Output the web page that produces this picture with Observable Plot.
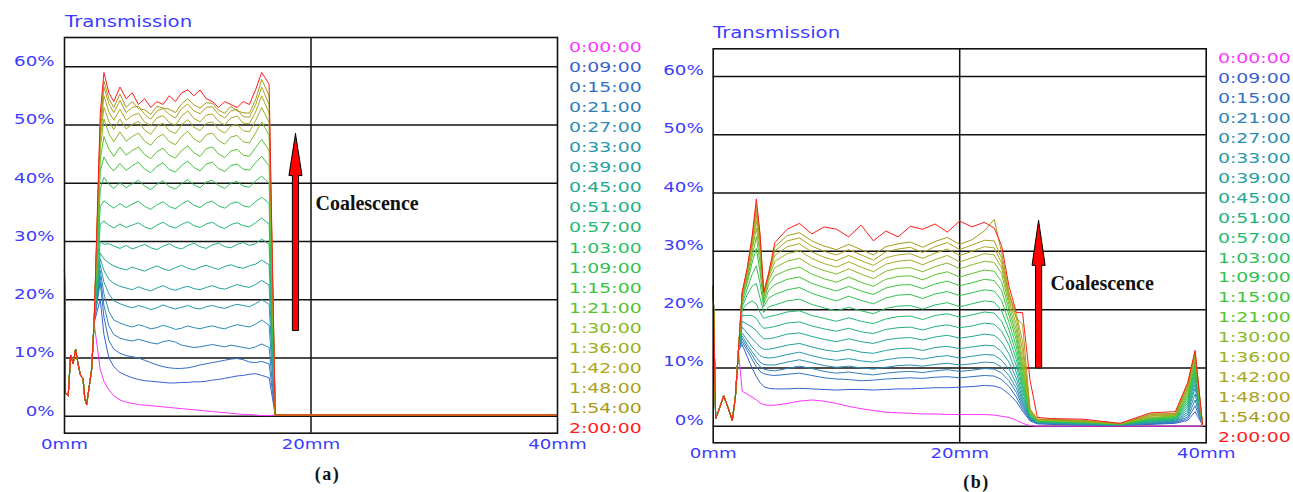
<!DOCTYPE html>
<html><head><meta charset="utf-8">
<script src="https://cdn.jsdelivr.net/npm/d3@7"></script>
<script src="https://cdn.jsdelivr.net/npm/@observablehq/plot@0.6"></script>
<style>
body{margin:0;background:#fff;}
#root{position:relative;width:1293px;height:492px;overflow:hidden;font-family:"DejaVu Sans",sans-serif;background:#fff;}
.abs{position:absolute;white-space:nowrap;}
.title{color:#3b3bff;font-size:16px;line-height:20px;transform:scaleX(1.23);transform-origin:0 50%;}
.leg{font-size:14.5px;line-height:20px;transform:scaleX(1.3);transform-origin:0 50%;}
.cap{font-family:"Liberation Serif",serif;font-weight:bold;font-size:18px;line-height:20px;letter-spacing:1.5px;width:60px;text-align:center;color:#111;}
svg{position:absolute;top:0;}
</style></head><body><div id="root"></div>
<script>
// ---------- shared ----------
const timeLabels = ["0:00:00","0:09:00","0:15:00","0:21:00","0:27:00","0:33:00","0:39:00","0:45:00","0:51:00","0:57:00",
  "1:03:00","1:09:00","1:15:00","1:21:00","1:30:00","1:36:00","1:42:00","1:48:00","1:54:00","2:00:00"];
const seriesColors = ["#ff33ff","#3a60d0","#3070c4","#2f80b8","#2b8db0","#2898aa","#24a0a0","#22a892","#22b082","#25b872",
  "#2abf60","#32c250","#3cc43e","#58c22e","#86b82a","#9cb024","#a8a820","#aaa21e","#a89a1a","#ff1a1a"];
const yTicks = [0,10,20,30,40,50,60];
const xTicks = [0,20,40];
const gridX = [20];

// ---------- panel (a) ----------
const leftAX = [0, 0.05, 0.3, 0.5, 0.7, 0.9, 1.1, 1.3, 1.5, 1.65, 1.8, 2.0, 2.2, 2.4];
const leftAY = [25, 4, 3.5, 10.5, 9, 11.5, 9, 7, 6.5, 3, 2, 5, 8, 16];
const plateauAX = [2.9,3.2,3.6,4.0,4.5,5.0,5.5,6.0,6.5,7.0,7.5,8.0,8.5,9.0,9.5,10.0,10.5,11.0,11.5,12.0,12.5,13.0,13.5,14.0,14.5,15.0,15.5,16.0,16.6];
const tailAX = [17.1, 40];
const tailAY = [0.2, 0.2];
const valuesA = [
 [8,6,4.5,3.5,2.8,2.4,2.2,2,1.9,1.8,1.7,1.6,1.5,1.4,1.3,1.2,1.1,1,0.9,0.8,0.7,0.6,0.5,0.4,0.3,0.3,0.2,0.1,0.1],
 [20,14,10,8.5,7.5,7,6.6,6.3,6.1,6,5.9,5.8,5.7,5.7,5.8,5.8,5.9,5.9,6,6.2,6.3,6.5,6.7,6.9,7,7.2,7.3,7,6.6],
 [23,17,13,11.5,10.8,10.4,10.2,10,9.6,9.2,8.8,8.5,8.3,8.2,8.2,8.3,8.5,8.8,9,9.2,9.4,9.6,9.8,9.9,9.7,9.3,9.2,9.4,9],
 [24,19,15.5,14,13.4,13.1,12.9,13.2,12.9,12.6,12.4,12.8,13,12.7,12.2,12,11.8,11.9,12.1,12.3,12.1,11.9,12.2,12,11.8,11.6,11.9,12.4,11.8],
 [25,21,18,16.5,16,15.6,15.3,15.7,15.4,15,15.2,15.6,15.3,14.9,15.1,15.5,15.2,15,15.3,15.5,15.2,15,15.4,15.7,15.5,15.3,15.8,16.5,15.6],
 [26,23,21,19.8,19.3,18.9,18.6,19,18.7,18.3,18.6,19.1,18.7,18.4,18.7,19,18.6,18.4,18.8,19,18.7,18.5,18.9,19.2,19,18.8,19.3,20,19.2],
 [27,25,23.5,22.8,22.3,22,21.7,22.2,21.8,21.5,22,22.4,21.9,21.6,22,22.3,21.9,21.7,22.1,22.4,22,21.8,22.2,22.6,22.3,22.1,22.6,23.3,22.5],
 [28,27,26.3,25.8,25.4,25.1,25.6,25.2,24.9,25.4,25.8,25.3,25,25.5,25.9,25.4,25.1,25.6,25.9,25.5,25.2,25.7,26,25.6,25.4,25.8,26.1,26.8,26],
 [30,29.5,29.6,29.2,28.8,29.3,28.7,29.1,29.5,28.9,28.6,29.2,29.6,29,28.7,29.3,29.7,29.1,28.8,29.4,29.7,29.1,28.9,29.5,29.8,29.3,29.6,30.4,29.5],
 [33,33.5,32.8,32.3,33,32.4,32.8,33.2,32.5,32.1,32.8,33.3,32.6,32.3,32.9,33.4,32.7,32.4,33,33.3,32.6,32.2,32.9,33.2,32.7,32.5,33.2,34,33],
 [36,37,36.3,35.7,36.5,35.8,36.4,36.9,36,35.5,36.3,36.8,36,35.6,36.4,37,36.2,35.8,36.6,36.9,36.1,35.7,36.5,36.8,36.1,35.9,36.8,37.6,36.5],
 [39,41,39.8,39.1,40.1,39.2,39.9,40.5,39.5,38.9,39.8,40.4,39.4,39,39.9,40.6,39.7,39.2,40.2,40.5,39.6,39.1,40,40.3,39.5,39.3,40.4,41.2,40],
 [42,44.5,43,42.1,43.4,42.2,43,43.6,42.4,41.8,42.9,43.5,42.3,41.9,43,43.8,42.7,42.1,43.3,43.6,42.5,42,43,43.3,42.4,42.2,43.5,44.6,43],
 [44,48,45.8,44.6,46.2,44.8,45.6,46.2,44.9,44.2,45.4,46,44.8,44.3,45.6,46.4,45.2,44.6,45.9,46.2,45,44.4,45.5,45.8,44.8,44.6,46.1,47.5,45.6],
 [46,51,48.5,47.1,48.8,47.2,48,48.6,47.2,46.5,47.8,48.4,47.1,46.6,48,48.9,47.6,47,48.3,48.6,47.3,46.7,47.9,48.2,47.1,46.9,48.6,50.5,48.2],
 [47.5,53,50.6,49.2,51,49.3,50.1,50.6,49.1,48.4,49.8,50.3,49,48.5,50,50.9,49.6,49,50.3,50.5,49.2,48.6,49.8,50.1,49,48.8,50.7,53,50.4],
 [48.5,55,52.2,50.8,52.7,50.8,51.6,52,50.5,49.8,51.2,51.6,50.4,49.9,51.5,52.4,51.1,50.5,51.7,51.9,50.6,50,51.2,51.5,50.3,50.2,52.2,55,52],
 [49.5,56.5,53.6,52.1,54.2,52.1,53,53.2,51.8,51,52.4,52.8,51.8,51.2,52.8,53.6,52.4,51.9,53,53.1,51.8,51.2,52.4,52.7,51.4,51.3,53.4,56.5,53.5],
 [50,57.5,54.5,53,55.3,53,54,52.8,52.6,51.8,53.2,52.9,52.7,52.1,53.6,54.5,53.4,52.9,53.8,53.7,52.5,52,53.2,52.4,52.1,52,54.3,57.8,55],
 [52,59,55.5,54,56.5,54.5,55.5,53.5,54.5,53,54,53.5,55,54,55.5,56,55,56,54.5,54,53,54,53.5,53,54,53.5,56,59,57]
];
const arrowA = {x: 18.74, y1: 14.7, base: 41.3, tip: 48.5};
const noteA = {x: 20.36, y: 36.5, text: "Coalescence"};

// ---------- panel (b) ----------
const leftBX = [0, 0.05, 0.2, 0.5, 0.85, 1.2, 1.55, 1.8, 2.05];
const leftBY = [24, 18, 1.3, 3, 5.2, 3.2, 1, 5, 13];
const plateauBX = [2.35,2.75,3.15,3.5,3.8,4.1,4.5,5,6,7,8,9,10,11,12,13,14,15,16,17,18,19,20,21,22,22.8,23.4,24.0,24.6,25.1,25.7,26.3,
  27.5,30,33,35.5,37.5,38.5,39.1,39.7];
const valuesB = [
 [6,5.5,5,4.5,4,3.7,3.6,3.6,3.9,4.3,4.5,4.3,3.9,3.4,3,2.7,2.4,2.3,2.2,2.1,2.1,2,2,2,2,1.9,1.7,1.5,1,0.5,0.1,0, 0,0,0,0,0,0,0,0],
 [14,12,10,8.5,7.5,6.8,6.5,6.4,6.4,6.5,6.4,6.3,6.2,6.3,6.3,6.2,6.3,6.4,6.4,6.5,6.6,6.6,6.7,6.8,7,6.9,6.5,5.5,4.2,2.6,0.9,0.4, 0.3,0.2,0.2,0.3,0.5,1,2.5,0.2],
 [14.5,13,11.5,10.2,9.4,9,8.8,8.7,8.9,9.1,8.7,8.3,8.1,8,7.8,7.9,8.1,8.2,8.3,8.2,8.4,8.5,8.3,8.5,8.7,8.6,8,6.8,5,3,1.1,0.5, 0.4,0.3,0.2,0.4,0.6,1.3,3.5,0.2],
 [15,13.5,12.2,11,10.2,9.8,9.6,9.5,9.9,10.3,9.9,9.4,9.1,9.3,9,8.8,9.1,9.3,9.4,9.2,9.5,9.7,9.4,9.6,9.9,9.8,9.1,7.8,5.8,3.4,1.2,0.5, 0.4,0.3,0.2,0.5,0.7,1.6,4.5,0.2],
 [15.5,14,12.8,11.8,11,10.6,10.5,10.5,11,11.4,10.9,10.4,10.1,10.3,10,9.8,10.1,10.4,10.5,10.3,10.6,10.8,10.5,10.7,11,10.9,10.1,8.7,6.5,3.8,1.3,0.6, 0.5,0.3,0.2,0.5,0.8,2,5.5,0.2],
 [16,14.8,13.6,12.8,12.1,11.8,11.7,11.8,12.3,12.7,12.1,11.6,11.3,11.6,11.2,11,11.4,11.7,11.8,11.5,11.9,12.1,11.7,12,12.3,12.2,11.3,9.8,7.3,4.2,1.4,0.6, 0.5,0.4,0.2,0.6,0.9,2.4,6.5,0.2],
 [17,16,15,14.3,13.6,13.2,13.2,13.4,13.9,14.2,13.6,13.1,12.8,13.2,12.7,12.5,13,13.3,13.4,13,13.5,13.7,13.3,13.6,13.9,13.8,12.8,11,8.2,4.7,1.5,0.6, 0.6,0.4,0.3,0.7,1,2.8,7.2,0.2],
 [18,17.5,17,16.4,15.6,15,15,15.2,15.8,16,15.4,14.9,14.5,15,14.5,14.2,14.8,15.1,15.2,14.8,15.3,15.6,15.1,15.4,15.8,15.6,14.5,12.4,9.2,5.3,1.6,0.7, 0.6,0.4,0.3,0.8,1.1,3.2,8,0.2],
 [19,19,19,18.5,17.5,16.8,16.9,17.1,17.7,17.9,17.2,16.7,16.3,16.8,16.2,15.9,16.6,16.9,17,16.5,17.1,17.4,16.9,17.2,17.7,17.5,16.3,13.9,10.3,6,1.7,0.7, 0.7,0.5,0.3,0.9,1.2,3.6,8.6,0.2],
 [20,21,21.5,21,19.5,18.5,18.8,19,19.6,19.8,19,18.5,18,18.6,18,17.6,18.4,18.8,18.9,18.3,19,19.3,18.7,19.1,19.6,19.4,18,15.2,11.4,6.6,1.8,0.8, 0.7,0.5,0.3,1,1.3,4,9.2,0.2],
 [20.5,22.5,24,24.5,22,19.5,20.5,20.8,21.5,21.8,20.9,20.3,19.8,20.4,19.8,19.3,20.2,20.6,20.7,20.1,20.8,21.2,20.5,21,21.5,21.3,19.8,16.5,12.5,7.3,2,0.8, 0.8,0.6,0.3,1.1,1.4,4.4,9.8,0.2],
 [21,23.5,26,27.5,24.5,20.5,22,22.6,23.4,23.8,22.8,22.1,21.5,22.3,21.6,21,22,22.5,22.6,21.9,22.7,23.1,22.4,22.9,23.4,23.2,21.6,17.8,13.6,8,2.1,0.9, 0.8,0.6,0.3,1.2,1.5,4.8,10.3,0.2],
 [21.5,24.5,28,30.5,26.5,21,23.3,24.3,25.2,25.6,24.5,23.8,23.2,24,23.2,22.6,23.7,24.2,24.3,23.6,24.4,24.9,24.1,24.6,25.2,25,23.3,19,14.7,8.8,2.2,0.9, 0.9,0.7,0.3,1.3,1.6,5.2,10.8,0.2],
 [22,25,29,32.5,28,21.5,24.3,25.8,26.8,27.3,26.1,25.3,24.7,25.6,24.7,24,25.2,25.7,25.8,25.1,26,26.5,25.6,26.2,26.8,26.6,24.8,20,15.6,9.6,2.3,1, 0.9,0.7,0.4,1.4,1.7,5.6,11.2,0.2],
 [22.3,25.5,30,34,29.5,22,25,27.2,28.3,28.8,27.5,26.7,26.1,27,26.1,25.3,26.6,27.1,27.2,26.5,27.4,28,27,27.7,28.3,28.1,26.2,20.8,16.5,10.5,2.4,1, 1,0.8,0.4,1.5,1.8,6,11.6,0.2],
 [22.5,26,30.7,35.3,30.5,22.3,25.5,28.3,29.6,30.1,28.8,27.9,27.3,28.2,27.3,26.5,27.8,28.3,28.5,27.7,28.6,29.3,28.2,28.9,29.6,29.4,27.2,21.5,17.5,11.5,2.5,1.1, 1,0.8,0.4,1.7,1.9,6.3,12,0.2],
 [22.6,26.3,31.3,36.3,31.3,22.5,25.8,29.3,30.8,31.3,29.9,29,28.4,29.3,28.4,27.6,28.9,29.4,29.6,28.8,29.7,30.4,29.3,30,30.8,30.6,28,22,18.5,13,2.7,1.1, 1.1,0.9,0.4,1.8,2,6.6,12.3,0.2],
 [22.8,26.6,31.7,37.2,32,22.7,26,30.1,31.8,32.3,30.9,30,29.4,30.3,29.4,28.5,29.9,30.4,30.7,29.8,30.8,31.5,30.3,31.1,31.9,31.8,28.8,22.5,19.3,14.5,2.9,1.2, 1.1,0.9,0.4,2,2.1,6.9,12.6,0.2],
 [22.9,26.8,32,38,32.6,22.8,26.1,30.8,32.7,33.2,31.8,30.9,30.3,31.2,30.3,29.4,30.8,31.3,31.6,30.7,31.7,32.4,31.2,32,33.5,35.5,29.8,23,18.5,17.5,3,1.2, 1.2,1,0.4,2.1,2.2,7.2,12.8,0.2],
 [23,27,32.5,39,33,23,26.3,31.5,33.8,34.8,33,34.2,33.8,32.5,34.5,31.8,33.5,32.5,34.3,33.8,34.7,33.3,35.2,34.2,35,34,31,24,19.5,19.5,8,1.5, 1.3,1.2,0.5,2.3,2.5,7.5,13,0.3]
];
const arrowB = {x: 26.4, y1: 10, base: 27.6, tip: 35.3};
const noteB = {x: 27.37, y: 24.5, text: "Coalescence"};

// ---------- build ----------
function buildRows(parts) {
  // parts: array per series of [[xs, ys], ...]
  const rows = [];
  timeLabels.forEach((t, i) => {
    for (const [xs, ys] of parts(i)) {
      const n = Math.min(xs.length, ys.length);
      for (let k = 0; k < n; k++) rows.push({t, x: xs[k], y: ys[k]});
    }
  });
  return rows;
}
const rowsA = buildRows(i => [[leftAX, leftAY], [plateauAX, valuesA[i]], [tailAX, tailAY]]);
const rowsB = buildRows(i => [[leftBX, leftBY], [plateauBX, valuesB[i]]]);

const SHAFT = 0.25, HEAD = 0.53; // half widths in mm
function arrowPoly(a) {
  return [
    {x: a.x, y: a.tip}, {x: a.x + HEAD, y: a.base}, {x: a.x + SHAFT, y: a.base},
    {x: a.x + SHAFT, y: a.y1}, {x: a.x - SHAFT, y: a.y1}, {x: a.x - SHAFT, y: a.base},
    {x: a.x - HEAD, y: a.base}, {x: a.x, y: a.tip}
  ];
}

function stretch(svg, s) {
  svg.querySelectorAll('g[aria-label$="tick label"] text').forEach(t => {
    const x = +(t.getAttribute("x") || 0);
    const tr = t.getAttribute("transform") || "";
    t.setAttribute("transform", `${tr} translate(${x},0) scale(${s},1) translate(${-x},0)`);
  });
}

function panel({rows, width, ml, mr, mt, mb, yDomain, arrow, note, dy, pad}) {
  const svg = Plot.plot({
    width, height: 492,
    marginLeft: ml, marginRight: mr, marginTop: mt, marginBottom: mb,
    x: {domain: [0, 40]},
    y: {domain: yDomain},
    color: {domain: timeLabels, range: seriesColors},
    style: {fontFamily: "DejaVu Sans", background: "transparent", overflow: "visible"},
    marks: [
      Plot.ruleY(yTicks, {stroke: "#111", strokeWidth: 1.5}),
      Plot.ruleX(gridX, {stroke: "#111", strokeWidth: 1.5}),
      Plot.line(rows, {x: "x", y: "y", z: "t", stroke: "t", strokeWidth: 1}),
      Plot.frame({stroke: "#111", strokeWidth: 1.6}),
      Plot.line(arrowPoly(arrow), {x: "x", y: "y", fill: "#ff0000", stroke: "#000", strokeWidth: 1}),
      Plot.text([note], {x: "x", y: "y", text: "text", textAnchor: "start", fontFamily: "Liberation Serif", fontWeight: "bold", fontSize: 20, fill: "#111"}),
      Plot.axisY({ticks: yTicks, tickFormat: d => `${d}%`, tickSize: 0, tickPadding: pad, fontSize: 14, color: "#3b3bff", dy, label: null}),
      Plot.axisX({ticks: xTicks, tickFormat: d => `${d}mm`, tickSize: 0, tickPadding: 5.5, fontSize: 14, color: "#3b3bff", label: null})
    ]
  });
  stretch(svg, 1.3);
  return svg;
}

const root = document.getElementById("root");
const svgA = panel({rows: rowsA, width: 646, ml: 64, mr: 89, mt: 37, mb: 59.3, yDomain: [-2.92, 65], arrow: arrowA, note: noteA, dy: -5, pad: 10});
svgA.style.left = "0px";
root.appendChild(svgA);
const svgB = panel({rows: rowsB, width: 647, ml: 66.7, mr: 87.3, mt: 48.3, mb: 49.7, yDomain: [-2.85, 64.76], arrow: arrowB, note: noteB, dy: -6, pad: 9.5});
svgB.style.left = "646px";
root.appendChild(svgB);

function addDiv(cls, text, left, top, color) {
  const d = document.createElement("div");
  d.className = "abs " + cls;
  d.textContent = text;
  d.style.left = left + "px";
  d.style.top = top + "px";
  if (color) d.style.color = color;
  root.appendChild(d);
}
addDiv("title", "Transmission", 65, 11.8);
addDiv("title", "Transmission", 713, 22.8);
timeLabels.forEach((t, i) => {
  addDiv("leg", t, 569, 37 + i * 20.05, seriesColors[i]);
  addDiv("leg", t, 1218, 47.8 + i * 19.97, seriesColors[i]);
});
addDiv("cap", "(a)", 297.5, 464);
addDiv("cap", "(b)", 946.5, 472);
</script></body></html>
